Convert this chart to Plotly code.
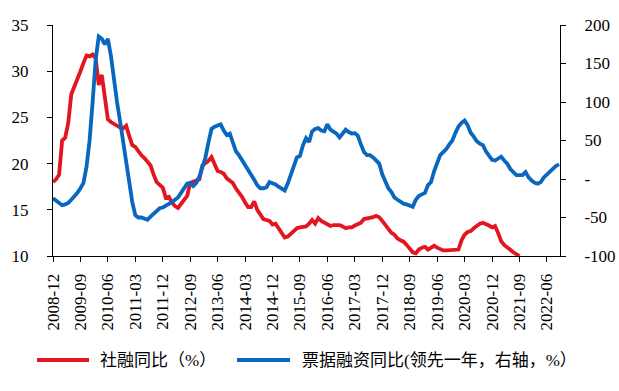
import plotly.graph_objects as go

# Month categories 2008-12 .. 2022-10
months = []
y, m = 2008, 12
while (y, m) <= (2022, 10):
    months.append(f"{y}-{m:02d}")
    m += 1
    if m > 12:
        y, m = y + 1, 1

tick_labels = ["2008-12", "2009-09", "2010-06", "2011-03", "2011-12", "2012-09",
               "2013-06", "2014-03", "2014-12", "2015-09", "2016-06", "2017-03",
               "2017-12", "2018-09", "2019-06", "2020-03", "2020-12", "2021-09",
               "2022-06"]

# 社融同比 (%), monthly from 2008-12
tsf_yoy = [
    18.0, 18.3, 18.8, 22.5, 22.8, 24.4, 27.5, 28.3, 29.0, 30.0,
    30.9, 31.7, 31.6, 31.8, 31.4, 28.5, 29.6, 27.5, 24.8, 24.5,
    24.3, 24.0, 23.9, 23.8, 24.1, 23.0, 22.0, 21.8, 21.3, 20.9,
    20.6, 20.2, 19.8, 18.8, 18.0, 17.7, 17.4, 16.3, 16.4, 15.8,
    15.4, 15.2, 15.6, 16.1, 16.5, 17.9, 18.0, 18.1, 18.3, 19.8,
    20.0, 20.3, 20.7, 19.9, 19.2, 19.1, 18.9, 18.4, 18.1, 17.9,
    17.3, 16.9, 16.4, 15.8, 15.3, 15.3, 15.9, 15.0, 14.5, 14.0,
    13.9, 13.8, 13.4, 13.5, 13.0, 12.4, 12.0, 12.1, 12.4, 12.8,
    13.0, 13.1, 13.2, 13.2, 13.5, 13.9, 13.5, 14.1, 13.8, 13.6,
    13.4, 13.25, 13.35, 13.4, 13.35, 13.2, 13.0, 13.1, 13.1, 13.3,
    13.5, 13.6, 14.0, 14.05, 14.1, 14.2, 14.35, 14.2, 13.8, 13.4,
    13.0, 12.5, 12.3, 11.9, 11.7, 11.55, 11.2, 10.8, 10.4, 10.3,
    10.7, 10.9, 11.0, 10.7, 10.9, 11.1, 10.9, 10.7, 10.6, 10.6,
    10.65, 10.65, 10.65, 10.7, 11.7, 12.3, 12.6, 12.7, 13.0, 13.25,
    13.5, 13.6, 13.5, 13.3, 13.1, 13.25, 12.5, 11.6, 11.2, 10.9,
    10.7, 10.4, 10.2, 10.0,
]

# 票据融资同比 (领先一年, 右轴, %), monthly from 2008-12
bill_yoy = [
    -25, -28, -31, -34, -33, -31, -27, -23, -18, -12,
    -5, 16, 50, 100, 155, 185, 182, 175, 182, 160,
    128, 100, 75, 48, 22, 0, -30, -47, -50, -50,
    -51, -53, -49, -45, -41, -38, -37, -35, -33, -30,
    -27, -24, -18, -12, -6, -5, -9, -5, 3, 15,
    28, 48, 65, 68, 69, 71, 63, 57, 59, 48,
    36, 31, 25, 19, 12, 5, -1, -8, -12, -12,
    -11, -4, -5, -7, -10, -12, -15, -6, 5, 16,
    28, 30, 44, 53, 48, 62, 65, 66, 63, 62,
    71, 64, 61, 59, 54, 60, 64, 61, 59, 59.5,
    56, 45, 35, 31, 31, 28, 24, 20, 6, -3,
    -12, -17, -24, -27, -30, -32, -33, -35, -36, -27,
    -22, -20, -18, -8, -4, 10, 22, 31, 35, 39,
    45, 50, 60, 68, 73, 76, 70, 60, 55, 49,
    46, 44, 36, 30, 25, 24, 26, 29, 24, 20,
    13, 9, 5, 5, 5, 9, 2, -2, -5, -6,
    -4, 2, 6, 9.5, 14, 17, 19,
]

left_ticks = [10, 15, 20, 25, 30, 35]
right_ticks = [-100, -50, 0, 50, 100, 150, 200]
right_tick_text = ["-100", "-50", "-", "50", "100", "150", "200"]

series_names = ["社融同比（%）", "票据融资同比(领先一年，右轴，%）"]

RED = "#E3161F"
BLUE = "#0867BE"
FONT = '"Liberation Serif", "Times New Roman", serif'
FONT_L = '"Liberation Serif", "Times New Roman", "Noto Sans CJK SC", serif'

fig = go.Figure()
fig.add_trace(go.Scatter(
    x=months[:len(tsf_yoy)], y=tsf_yoy, name=series_names[0],
    mode="lines", line=dict(color=RED, width=3.8), yaxis="y",
))
fig.add_trace(go.Scatter(
    x=months[:len(bill_yoy)], y=bill_yoy, name=series_names[1],
    mode="lines", line=dict(color=BLUE, width=3.8), yaxis="y2",
))

# Plot area: x 53..560 px, y 25..256 px
def px_x(p):
    return (p - 53) / 507.0

def px_y(p):
    return (256 - p) / 231.0

legend_y = px_y(360)
legend_items = [
    (37, 89, 98, RED, series_names[0]),
    (237, 290, 300, BLUE, series_names[1]),
]
shapes = []
annotations = []
for x0, x1, xt, col, name in legend_items:
    shapes.append(dict(type="line", xref="paper", yref="paper",
                       x0=px_x(x0), x1=px_x(x1), y0=legend_y, y1=legend_y,
                       line=dict(color=col, width=4)))
    annotations.append(dict(xref="paper", yref="paper", x=px_x(xt), y=legend_y,
                            xanchor="left", yanchor="middle", text=name,
                            showarrow=False,
                            font=dict(family=FONT_L, size=17, color="black")))

fig.update_layout(
    template="none",
    width=619, height=391,
    margin=dict(l=53, r=59, t=25, b=135, pad=0),
    paper_bgcolor="white", plot_bgcolor="white",
    font=dict(family=FONT, size=17, color="black"),
    showlegend=False,
    hovermode=False,
    shapes=shapes,
    annotations=annotations,
    xaxis=dict(
        type="category", categoryorder="array", categoryarray=months,
        range=[0, 166.3], tickmode="array", tickvals=tick_labels, ticktext=tick_labels,
        tickangle=-90, ticks="outside", ticklen=5, tickcolor="black",
        showline=True, linecolor="black", linewidth=1, showgrid=False, zeroline=False,
        tickfont=dict(family=FONT, size=17), ticklabelstandoff=5, automargin=False,
    ),
    yaxis=dict(
        range=[10, 35], tickvals=left_ticks, ticks="outside", ticklen=5,
        tickcolor="black", showline=True, linecolor="black", linewidth=1,
        showgrid=False, zeroline=False, tickfont=dict(family=FONT, size=17),
        ticklabelstandoff=15, automargin=False,
    ),
    yaxis2=dict(
        range=[-100, 200], tickvals=right_ticks, ticktext=right_tick_text,
        overlaying="y", side="right", ticks="outside", ticklen=5, tickcolor="black",
        showline=True, linecolor="black", linewidth=1, showgrid=False, zeroline=False,
        tickfont=dict(family=FONT, size=17), ticklabelstandoff=15, automargin=False,
    ),
)

fig.write_html("out.html", config={"displayModeBar": False},
               post_script="document.body.style.margin='0';")
